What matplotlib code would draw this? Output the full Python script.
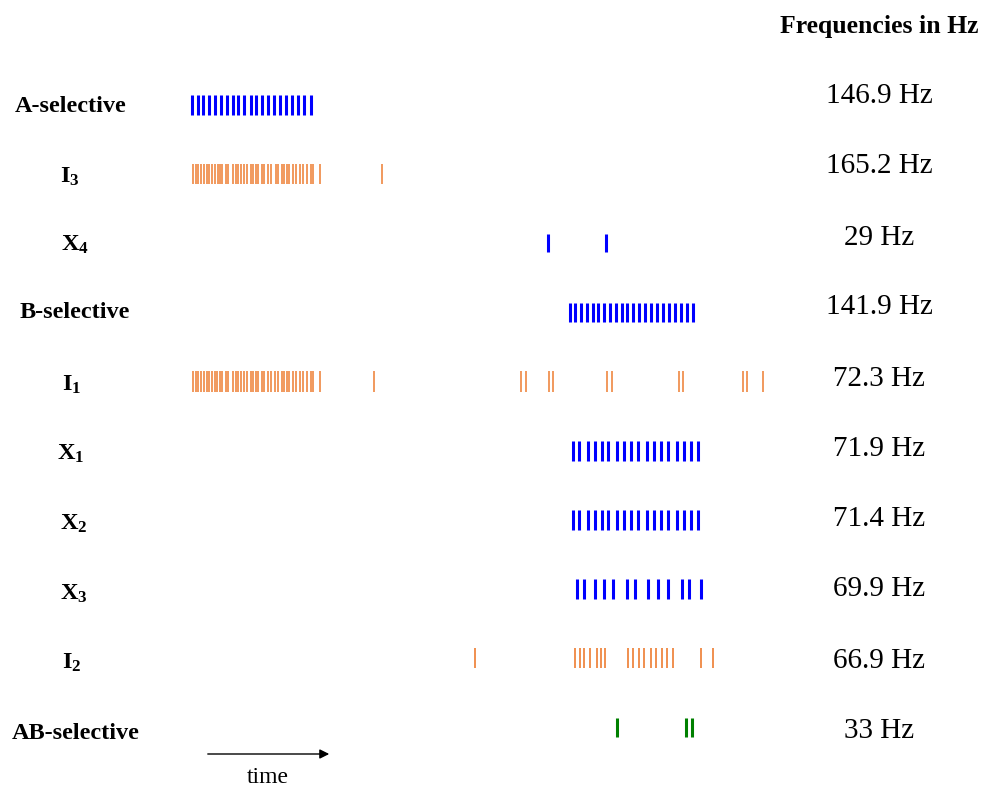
import matplotlib
matplotlib.use("Agg")
import matplotlib.pyplot as plt

# ----------------------------------------------------
# SPIKE TIMES (ms)
# ----------------------------------------------------
a_sel = [1.7, 7.7, 13.3, 19, 25, 30.7, 36.7, 42.7, 48.3, 54.3, 60.7, 66.3, 72.3,
         78.3, 84, 90, 96, 101.7, 107.7, 113.7, 121]
i3 = [3.3, 5.7, 8.3, 10.7, 14.3, 16.7, 19, 21.7, 25, 27.7, 29.7, 32.3, 36, 38.3,
      43.3, 45.7, 48.3, 50.7, 54, 56.7, 61, 63.3, 65.7, 68.3, 71.7, 74.3, 78.3,
      80.7, 85.7, 88.3, 91.7, 94.3, 96.7, 99, 103.3, 105.7, 110, 113.3, 116.7,
      121, 123.3, 130, 191.7]
x4 = [358.3, 416]
b_sel = [380, 385.3, 390.7, 396.7, 402.7, 408.3, 414.3, 420, 426, 431.7, 437.3,
         443.3, 449.3, 455.3, 461.3, 467.3, 473.3, 479.3, 485, 490.7, 497.3, 503.3]
i1 = [3.3, 5.7, 8.3, 10.7, 14, 16.7, 19, 21.7, 25, 27.3, 30, 32.3, 35.7, 38.3,
      43.3, 45.7, 48.3, 51, 54.3, 56.7, 60.7, 63.3, 65.7, 68.3, 71.7, 74.3, 78.3,
      81, 85, 87.7, 91.7, 94.3, 96.7, 99, 103.3, 105.7, 110, 113.3, 116.7, 121,
      123.3, 130, 184.3,
      331, 336, 359.3, 363.3, 416.7, 421.7, 488.7, 493.3, 553.3, 557.3, 573.3]
x1 = [382.7, 389.3, 397.7, 405, 411.7, 418.3, 427.3, 434.3, 441, 447.7, 456.7,
      464, 471, 478.3, 486.7, 494, 501, 507.7]
x2 = [382.7, 389.3, 397.7, 405, 411.7, 418.3, 427.3, 434.3, 441, 447.7, 456.7,
      464, 471, 478.3, 486.7, 494, 501, 507.7]
x3 = [386.7, 394, 405, 414.3, 423.3, 437.3, 445, 457.7, 468.3, 478.3, 491.7,
      499.3, 511]
i2 = [285, 385, 390, 394.3, 400.3, 406.7, 411, 415, 438.3, 443.3, 449, 454, 461,
      466, 471.7, 476.7, 483.3, 510.7, 522.7]
ab_sel = [426.7, 495.7, 502.3]

labels = ["A-selective", r"$\mathbf{I_3}$", r"$\mathbf{X_4}$", "B-selective",
          r"$\mathbf{I_1}$", r"$\mathbf{X_1}$", r"$\mathbf{X_2}$", r"$\mathbf{X_3}$",
          r"$\mathbf{I_2}$", "AB-selective"]
freqs = ["146.9 Hz", "165.2 Hz", "29 Hz", "141.9 Hz", "72.3 Hz", "71.9 Hz",
         "71.4 Hz", "69.9 Hz", "66.9 Hz", "33 Hz"]

trains = [a_sel, i3, x4, b_sel, i1, x1, x2, x3, i2, ab_sel]

BLUE = "#0000FF"
ORANGE = "#ED7D31"
GREEN = "#008000"
colors = [BLUE, ORANGE, BLUE, BLUE, ORANGE, BLUE, BLUE, BLUE, ORANGE, GREEN]
widths = [2.2, 1.1, 2.2, 2.2, 1.1, 2.2, 2.2, 2.2, 1.2, 2.2]
lengths = [0.29, 0.29, 0.26, 0.28, 0.29, 0.29, 0.28, 0.29, 0.29, 0.28]

plt.rcParams["font.family"] = ["Liberation Serif", "DejaVu Serif"]
plt.rcParams["mathtext.fontset"] = "custom"
plt.rcParams["mathtext.rm"] = "Liberation Serif"
plt.rcParams["mathtext.bf"] = "Liberation Serif:bold"

W, H = 985, 787
fig = plt.figure(figsize=(W / 100, H / 100), dpi=100)
ax = fig.add_axes([0, 0, 1, 1])

# ----------------------------------------------------
# RASTER
# ----------------------------------------------------
ax.eventplot(trains, orientation="horizontal", lineoffsets=list(range(10)),
             linelengths=lengths, linewidths=widths, colors=colors)

# row i sits at pixel y = 104.7 + 69.2 * i, time 0 at pixel x = 190
ax.set_xlim(-190, W - 190)
ax.set_ylim((H - 104.7) / 69.2, -104.7 / 69.2)
ax.axis("off")


def fx(px):
    return px / W


def fy(py):
    return 1 - py / H


# ----------------------------------------------------
# LABELS
# ----------------------------------------------------
label_x = [15, 60, 61, 20, 62, 57, 60, 60, 62, 12]
label_base = [112, 183, 251, 318, 391, 460, 530, 600, 669, 739]
for lab, lx, ly in zip(labels, label_x, label_base):
    fig.text(fx(lx), fy(ly), lab, fontsize=17.5, fontweight="bold",
             ha="left", va="baseline")

freq_base = [103, 173, 245, 314, 386, 456, 526, 596, 668, 738]
for fr, fb in zip(freqs, freq_base):
    fig.text(fx(879), fy(fb), fr, fontsize=21, ha="center", va="baseline")

fig.text(fx(879), fy(33), "Frequencies in Hz", fontsize=18.5, fontweight="bold",
         ha="center", va="baseline")

# time arrow
fig.add_artist(matplotlib.patches.FancyArrowPatch(
    (fx(205), fy(754)), (fx(332), fy(754)), transform=fig.transFigure,
    arrowstyle="-|>", mutation_scale=14, color="black", lw=1))
fig.text(fx(268), fy(783), "time", fontsize=17, ha="center", va="baseline")

fig.savefig("out.png", dpi=100)
